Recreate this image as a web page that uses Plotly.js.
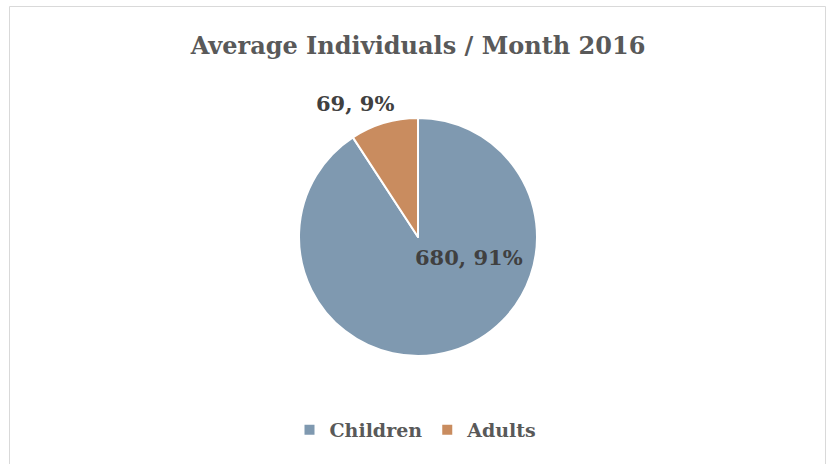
<!DOCTYPE html>
<html><head><meta charset="utf-8">
<script src="https://cdn.plot.ly/plotly-3.0.1.min.js"></script>
<style>html,body{margin:0;padding:0;background:#fff}#c{width:830px;height:464px}</style>
</head><body><div id="c"></div>
<script>
const categories = ['Children', 'Adults'];
const values = [680, 69];
const colors = ['#7f99b0', '#c98c5f'];
const titleText = 'Average Individuals / Month 2016';

const total = values.reduce((a, b) => a + b, 0);
const labelText = values.map(v => v + ', ' + Math.round(100 * v / total) + '%');
const W = 830, H = 464;
const font = '"DejaVu Serif", serif';
const labelPos = [[469, 257], [355, 103]];

const trace = {
  type: 'pie', labels: categories, values: values, sort: false,
  direction: 'clockwise', rotation: 0, textinfo: 'none', hoverinfo: 'none',
  marker: {colors: colors, line: {color: '#ffffff', width: 2}},
  domain: {x: [(418 - 119) / W, (418 + 119) / W], y: [1 - 356 / H, 1 - 118 / H]}
};

const layout = {
  width: W, height: H, margin: {l: 0, r: 0, t: 0, b: 0},
  paper_bgcolor: '#ffffff',
  title: {text: titleText, x: 418 / W, xanchor: 'center', y: 1 - 46 / H, yanchor: 'middle',
    font: {family: font, size: 24, weight: 'bold', color: '#595959'}},
  showlegend: true,
  legend: {orientation: 'h', x: 416 / W, xanchor: 'center', y: 1 - 430 / H, yanchor: 'middle',
    font: {family: font, size: 19, weight: 'bold', color: '#595959'}, itemwidth: 30, traceorder: 'normal'},
  annotations: labelText.map((t, i) => ({
    text: t, xref: 'paper', yref: 'paper',
    x: labelPos[i][0] / W, y: 1 - labelPos[i][1] / H, xanchor: 'center', yanchor: 'middle',
    showarrow: false, font: {family: font, size: 21, weight: 'bold', color: '#404040'}
  })),
  shapes: [{type: 'rect', xref: 'paper', yref: 'paper', x0: 9.5 / W, x1: 825.5 / W, y0: -0.05, y1: 1 - 6.5 / H,
    line: {color: '#d9d9d9', width: 1}}]
};
Plotly.newPlot('c', [trace], layout, {displayModeBar: false, staticPlot: true});
</script></body></html>
